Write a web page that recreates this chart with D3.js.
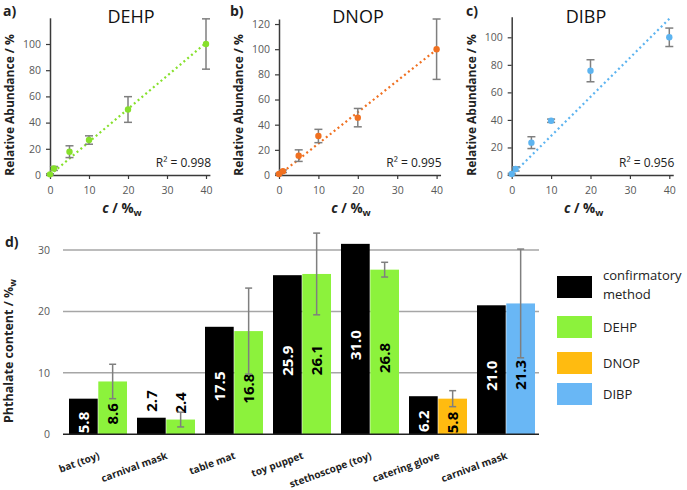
<!DOCTYPE html>
<html><head><meta charset="utf-8">
<script src="https://cdn.jsdelivr.net/npm/d3@7"></script>
<style>
body{margin:0;background:#fff}
svg{display:block;font-family:'Open Sans',sans-serif}
</style>
</head><body>
<svg id="c" width="687" height="490"></svg>
<script>
// ---------- Calibration data (panels a–c) ----------
const concX = [0, 1, 5, 10, 20, 40];
const calTicksX = [0, 10, 20, 30, 40];
const dehpY = [0.5, 5, 17.8, 26.7, 50, 100];
const dehpErr = [0.5, 1.5, 4.5, 3.2, 9.8, 19.2];
const dnopY = [0.8, 3, 15.4, 31, 45.6, 100];
const dnopErr = [0.5, 1, 4.6, 5.3, 7.3, 24];
const dibpY = [0.7, 4.4, 23.5, 39.4, 75.7, 100];
const dibpErr = [0.5, 1.5, 4.3, 1.2, 8, 6.7];
const panelNames = ["DEHP", "DNOP", "DIBP"];
const panelLetters = ["a)", "b)", "c)"];
const r2Labels = ["R² = 0.998", "R² = 0.995", "R² = 0.956"];
const yTicksA = [0, 20, 40, 60, 80, 100];
const yTicksB = [0, 20, 40, 60, 80, 100, 120];
const yTicksC = [0, 20, 40, 60, 80, 100];

// ---------- Product data (panel d) ----------
const products = ["bat (toy)", "carnival mask", "table mat", "toy puppet", "stethoscope (toy)", "catering glove", "carnival mask"];
const confirmatory = [5.8, 2.7, 17.5, 25.9, 31.0, 6.2, 21.0];
const screening = [8.6, 2.4, 16.8, 26.1, 26.8, 5.8, 21.3];
const screeningErr = [2.8, 1.2, 7.0, 6.65, 1.2, 1.3, 8.85];
const screeningSeries = ["DEHP", "DEHP", "DEHP", "DEHP", "DEHP", "DNOP", "DIBP"];
const legendLabels = ["confirmatory method", "DEHP", "DNOP", "DIBP"];
const barTicks = [0, 10, 20, 30];

// ---------- styles ----------
const AXC = "#3a3a3a", ERRC = "#7f7f7f", TKC = "#595959", GRIDC = "#a6a6a6";
const seriesColor = {"confirmatory method": "#000000", DEHP: "#8cf23c", DNOP: "#ffbb10", DIBP: "#69b7f5"};
const pointColor = ["#86e02b", "#f07020", "#5db4f0"];

const svg = d3.select("#c");

// ---------- panels a–c ----------
const panels = [
  {ys: dehpY, err: dehpErr, yt: yTicksA, x0: 50, xppu: 3.9, y100: 44, ymax: 120, tx: 131, lx: 3},
  {ys: dnopY, err: dnopErr, yt: yTicksB, x0: 279, xppu: 3.94, y100: 49.2, ymax: 124, tx: 358, lx: 230},
  {ys: dibpY, err: dibpErr, yt: yTicksC, x0: 511.7, xppu: 3.94, y100: 37.3, ymax: 115, tx: 586, lx: 466}
];

panels.forEach((p, k) => {
  const ppu = (175 - p.y100) / 100;
  const y = d3.scaleLinear().domain([0, p.ymax]).range([175, 175 - p.ymax * ppu]);
  const x = d3.scaleLinear().domain([0, 41]).range([p.x0, p.x0 + 41 * p.xppu]);
  const g = svg.append("g");

  const ya = g.append("g").attr("transform", `translate(${p.x0},0)`)
    .call(d3.axisLeft(y).tickValues(p.yt).tickSize(4).tickSizeOuter(0).tickPadding(5));
  const xa = g.append("g").attr("transform", `translate(0,175)`)
    .call(d3.axisBottom(x).tickValues(calTicksX).tickSize(4).tickSizeOuter(0).tickPadding(8));
  [ya, xa].forEach(a => {
    a.select(".domain").attr("stroke", AXC).attr("stroke-width", 1.5);
    a.selectAll(".tick line").attr("stroke", AXC).attr("stroke-width", 1.2);
    a.selectAll(".tick text").attr("fill", TKC).attr("font-size", 10.5).attr("font-family", "'Open Sans',sans-serif");
  });

  // trendline through origin
  const slope = d3.sum(concX, (c, i) => c * p.ys[i]) / d3.sum(concX, c => c * c);
  g.append("line")
    .attr("x1", x(0)).attr("y1", y(0)).attr("x2", x(40)).attr("y2", y(slope * 40))
    .attr("stroke", pointColor[k]).attr("stroke-width", 2.2).attr("stroke-dasharray", "2 3");

  // error bars
  concX.forEach((c, i) => {
    const cx = x(c), lo = y(p.ys[i] - p.err[i]), hi = y(p.ys[i] + p.err[i]);
    g.append("line").attr("x1", cx).attr("x2", cx).attr("y1", lo).attr("y2", hi).attr("stroke", ERRC).attr("stroke-width", 1.5);
    [lo, hi].forEach(yy => g.append("line").attr("x1", cx - 4).attr("x2", cx + 4).attr("y1", yy).attr("y2", yy).attr("stroke", ERRC).attr("stroke-width", 1.5));
  });
  g.selectAll("circle.pt").data(concX).enter().append("circle")
    .attr("cx", c => x(c)).attr("cy", (c, i) => y(p.ys[i])).attr("r", 3.2).attr("fill", pointColor[k]);

  g.append("text").attr("x", p.tx).attr("y", 23).attr("text-anchor", "middle").attr("font-size", 18).attr("fill", "#111").text(panelNames[k]);
  g.append("text").attr("x", p.lx).attr("y", 16).attr("font-size", 14).attr("font-weight", "bold").attr("fill", "#222").text(panelLetters[k]);
  g.append("text").attr("x", x(40) + 5).attr("y", 167).attr("text-anchor", "end").attr("font-size", 12).attr("fill", "#222").text(r2Labels[k]);

  const xt = g.append("text").attr("x", p.x0 + 72).attr("y", 213).attr("text-anchor", "middle").attr("font-size", 13.5).attr("font-weight", "bold").attr("fill", "#222");
  xt.append("tspan").attr("font-style", "italic").text("c");
  xt.append("tspan").text(" / %");
  xt.append("tspan").attr("font-size", 9.5).attr("dy", 3).text("w");

  g.append("text").attr("transform", `translate(${p.x0 - 40},105) rotate(-90)`).attr("text-anchor", "middle").attr("dy", "0.35em")
    .attr("font-size", 12).attr("font-weight", "bold").attr("fill", "#222").text("Relative Abundance / %");
});

// ---------- panel d ----------
const yb = d3.scaleLinear().domain([0, 30]).range([434.3, 250]);
const xb0 = d3.scaleBand().domain(d3.range(products.length)).range([63, 539]);
const xb1 = d3.scaleBand().domain([0, 1]).range([6, xb0.bandwidth() - 4]).paddingInner(0.02);
const gd = svg.append("g");

barTicks.forEach(t => {
  if (t > 0) gd.append("line").attr("x1", 63).attr("x2", 539).attr("y1", yb(t)).attr("y2", yb(t)).attr("stroke", GRIDC).attr("stroke-width", 1.5);
  gd.append("text").attr("x", 50).attr("y", yb(t)).attr("dy", "0.35em").attr("text-anchor", "end").attr("font-size", 10.5).attr("fill", TKC).text(t);
});

const fmt = d3.format(".1f");
function valueLabel(xc, v, onBlack) {
  const h = yb(0) - yb(v);
  if (h > 30) {
    gd.append("text").attr("transform", `translate(${xc},${(yb(v) + yb(0)) / 2 + 6}) rotate(-90)`)
      .attr("text-anchor", "middle").attr("dy", "0.36em").attr("font-size", 15).attr("font-weight", "bold")
      .attr("fill", onBlack ? "#fff" : "#000").text(fmt(v));
  } else {
    gd.append("text").attr("transform", `translate(${xc},${yb(v) - 6}) rotate(-90)`)
      .attr("text-anchor", "start").attr("dy", "0.36em").attr("font-size", 15).attr("font-weight", "bold")
      .attr("fill", "#000").text(fmt(v));
  }
}

products.forEach((name, i) => {
  const bx = xb0(i);
  const xa = bx + xb1(0), xg = bx + xb1(1), w = xb1.bandwidth();
  gd.append("rect").attr("x", xa).attr("y", yb(confirmatory[i])).attr("width", w).attr("height", yb(0) - yb(confirmatory[i])).attr("fill", seriesColor["confirmatory method"]);
  gd.append("rect").attr("x", xg).attr("y", yb(screening[i])).attr("width", w).attr("height", yb(0) - yb(screening[i])).attr("fill", seriesColor[screeningSeries[i]]);
  valueLabel(xa + w / 2, confirmatory[i], true);
  valueLabel(xg + w / 2, screening[i], false);
  // error bar
  const cx = xg + w / 2, lo = yb(screening[i] - screeningErr[i]), hi = yb(screening[i] + screeningErr[i]);
  gd.append("line").attr("x1", cx).attr("x2", cx).attr("y1", lo).attr("y2", hi).attr("stroke", ERRC).attr("stroke-width", 1.5);
  [lo, hi].forEach(yy => gd.append("line").attr("x1", cx - 3.5).attr("x2", cx + 3.5).attr("y1", yy).attr("y2", yy).attr("stroke", ERRC).attr("stroke-width", 1.5));
  // category label
  gd.append("text").attr("transform", `translate(${bx + xb0.bandwidth() / 2 + 2},455) rotate(-20)`)
    .attr("text-anchor", "end").attr("dy", "0.35em").attr("font-size", 10).attr("font-weight", "bold").attr("fill", "#222").text(name);
});

gd.append("line").attr("x1", 63).attr("x2", 539).attr("y1", yb(0)).attr("y2", yb(0)).attr("stroke", "#222").attr("stroke-width", 1.5);

gd.append("text").attr("x", 5).attr("y", 247).attr("font-size", 14).attr("font-weight", "bold").attr("fill", "#222").text("d)");
const yt = gd.append("text").attr("transform", "translate(9,351) rotate(-90)").attr("text-anchor", "middle").attr("dy", "0.35em")
  .attr("font-size", 12.5).attr("font-weight", "bold").attr("fill", "#222");
yt.append("tspan").text("Phthalate content / %");
yt.append("tspan").attr("font-size", 9).attr("dy", 3).text("w");

// legend
const legendY = [276, 316, 352, 383];
legendLabels.forEach((lab, i) => {
  gd.append("rect").attr("x", 557).attr("y", legendY[i]).attr("width", 35).attr("height", 22).attr("fill", seriesColor[lab]);
  if (i === 0) {
    const t = gd.append("text").attr("x", 603).attr("font-size", 13).attr("fill", "#222");
    t.append("tspan").attr("x", 603).attr("y", 280).text("confirmatory");
    t.append("tspan").attr("x", 603).attr("y", 298.5).text("method");
  } else {
    gd.append("text").attr("x", 603).attr("y", legendY[i] + 11).attr("dy", "0.35em").attr("font-size", 13).attr("fill", "#222").text(lab);
  }
});
</script>
</body></html>
